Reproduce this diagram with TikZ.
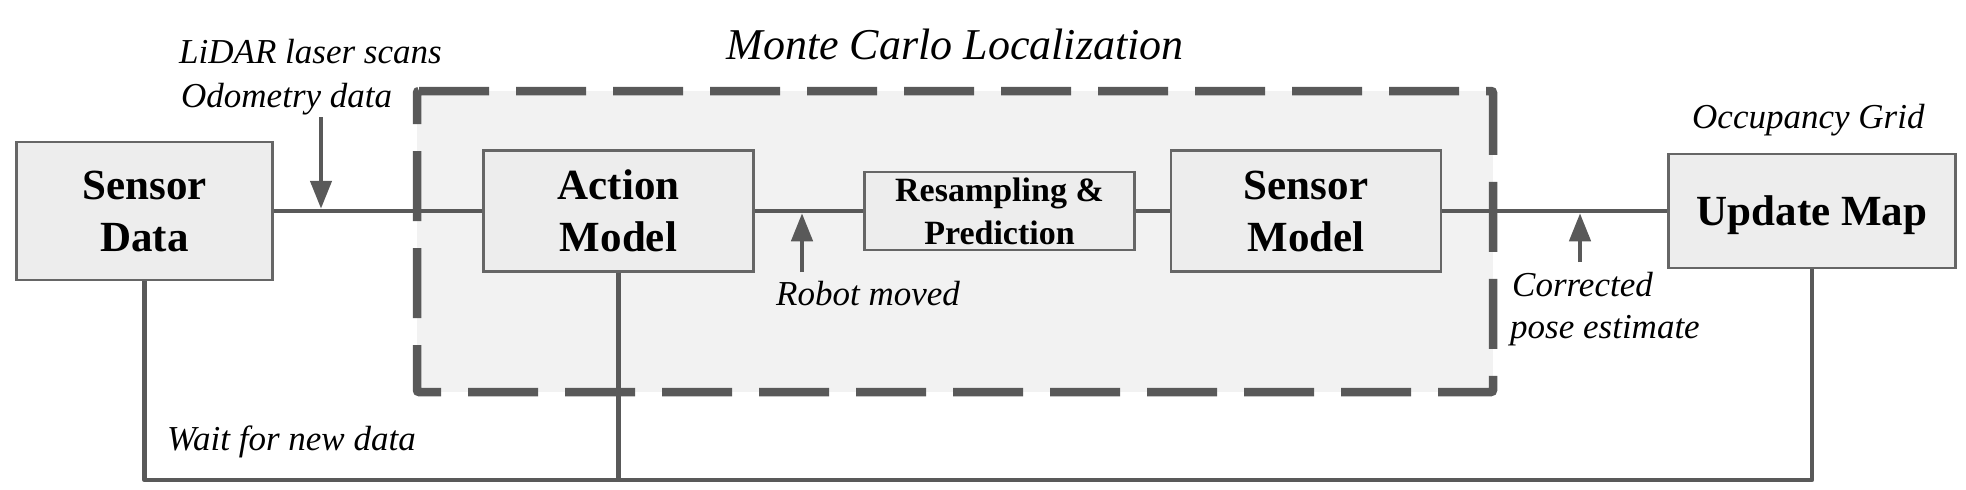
\documentclass[tikz,border=0pt]{standalone}
\usepackage{fontspec}
\setmainfont{Liberation Serif}[ItalicFont={Liberation Serif Italic}, BoldFont={Liberation Serif Bold}]
\usetikzlibrary{arrows.meta}
\definecolor{ln}{HTML}{595959}
\definecolor{bx}{HTML}{EDEDED}
\definecolor{bd}{HTML}{666666}
\definecolor{rg}{HTML}{F2F2F2}
\begin{document}
\begin{tikzpicture}[x=1pt,y=-1pt,
  box/.style={draw=bd, fill=bx, line width=2.5pt, inner sep=0pt, align=center,
    font=\bfseries\fontsize{43}{52}\selectfont},
  smallbox/.style={box, font=\bfseries\fontsize{34}{43}\selectfont},
  conn/.style={draw=ln, line width=4.5pt},
  arr/.style={conn, -{Triangle[length=28pt,width=21pt]}},
  lbl/.style={inner sep=0pt, anchor=base west, font=\itshape\fontsize{35}{42}\selectfont},
  titlelbl/.style={inner sep=0pt, anchor=base, font=\itshape\fontsize{44}{52}\selectfont},
  region/.style={draw=ln, line width=8.5pt, dash pattern=on 70pt off 27pt, rounded corners=2pt}]
\useasboundingbox (0,0) rectangle (1966,490);
% MCL region background
\fill[rg] (417,91) rectangle (1493,392);
% boxes
\node[box, minimum width=256pt, minimum height=138pt] (sd) at (144.5,211) {Sensor\\Data};
\node[box, minimum width=270pt, minimum height=121pt] (am) at (618.5,211) {Action\\Model};
\node[smallbox, minimum width=270pt, minimum height=78pt] (rp) at (999.5,211) {Resampling \&\\Prediction};
\node[box, minimum width=270pt, minimum height=121pt] (sm) at (1306,211) {Sensor\\Model};
\node[box, minimum width=287pt, minimum height=114pt, text depth=0pt] (um) at (1812,211) {Update Map};
% main chain
\draw[conn] (sd.east) -- (am.west);
\draw[conn] (am.east) -- (rp.west);
\draw[conn] (rp.east) -- (sm.west);
\draw[conn] (sm.east) -- (um.west);
% feedback loop
\coordinate (bl) at (144.5,480);
\coordinate (br) at (1812,480);
\draw[conn, line join=round] (sd.south) -- (bl) -- (br) -- (um.south);
\draw[conn] (am.south) -- (am.south |- bl);
% input arrows
\coordinate (lidarfrom) at (321,117);
\coordinate (lidarto) at (321,208.75);
\draw[arr] (lidarfrom) -- (lidarto);
\coordinate (robotfrom) at (802,272);
\coordinate (robotto) at (802,213.25);
\draw[arr] (robotfrom) -- (robotto);
\coordinate (corrfrom) at (1580,262);
\coordinate (corrto) at (1580,213.25);
\draw[arr] (corrfrom) -- (corrto);
% dashed region border
\draw[region] (417,91) -- (1493,91) -- (1493,392) -- (417,392) -- cycle;
% labels
\node[titlelbl] (title) at (955,59) {Monte Carlo Localization};
\node[lbl] (lidar1) at (179,63) {LiDAR laser scans};
\node[lbl] (lidar2) at (181,107) {Odometry data};
\node[lbl] (robot) at (776,305) {Robot moved};
\node[lbl] (wait) at (167,450) {Wait for new data};
\node[lbl] (occ) at (1692,128) {Occupancy Grid};
\node[lbl] (corr1) at (1512,296) {Corrected};
\node[lbl] (corr2) at (1510,338) {pose estimate};
\end{tikzpicture}
\end{document}
